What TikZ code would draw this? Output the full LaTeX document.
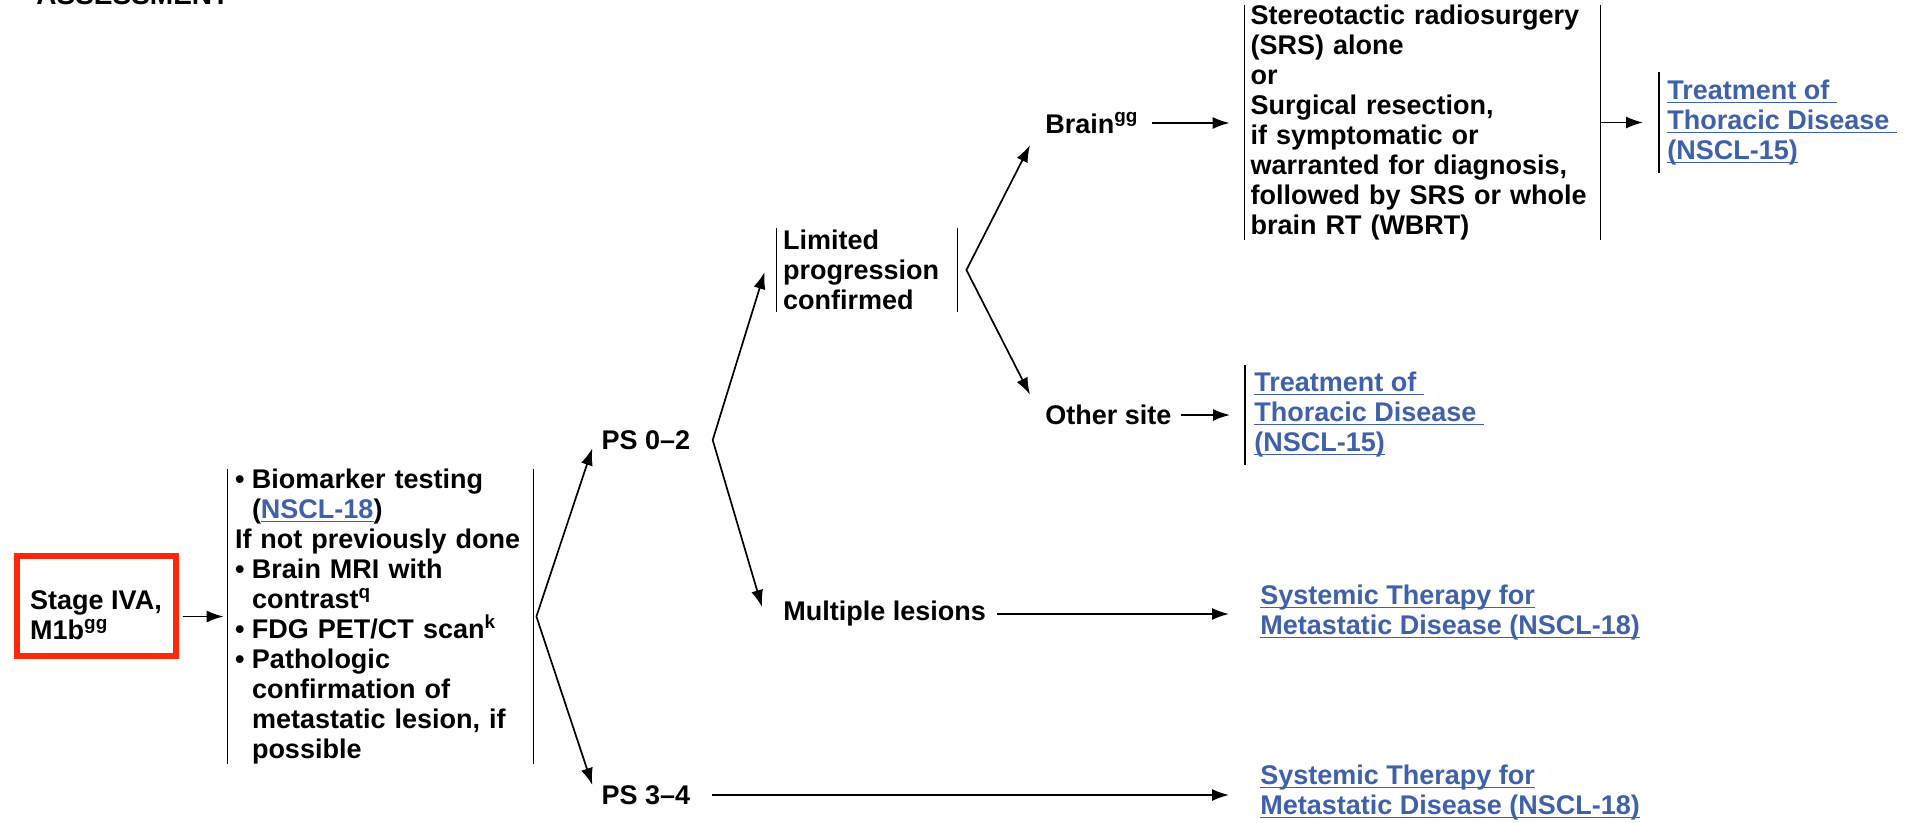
\documentclass[tikz,border=0pt]{standalone}
\usepackage{fontspec}
\setmainfont{Liberation Sans}
\usetikzlibrary{arrows.meta,calc}
\definecolor{linkblue}{RGB}{63,96,170}
\definecolor{boxred}{RGB}{255,40,10}
\newcommand\lnk[1]{\textcolor{linkblue}{\underline{\smash{#1}}\vphantom{#1}}}
\newcommand\bul{\makebox[8.5pt][l]{\textbullet}}
\newcommand\ind{\hspace*{8.5pt}}
\tikzset{
	txt/.style={font=\fontsize{13.5}{15}\selectfont\bfseries, inner sep=0pt, align=left},
	arr/.style={line width=0.85pt, -{Latex[length=8.5pt,width=6pt]}},
	forkarr/.style={line width=0.85pt, {Latex[length=8.5pt,width=6pt]}-{Latex[length=8.5pt,width=6pt]}},
	bar/.style={line width=0.7pt}
}

\begin{document}
\begin{tikzpicture}[x=0.5pt,y=-0.5pt]
				%%%%% FRAME %%%%%
				\useasboundingbox (0,0) rectangle (1909,823);
				\node[txt,font=\fontsize{14}{16}\selectfont\bfseries,anchor=base west] (head) at (36,5) {ASSESSMENT};

				%%%%% WORKUP %%%%%
				\node[txt,draw=boxred,line width=3pt,minimum width=79.5pt,minimum height=50pt] (stage) at (96,606) {\rule{0pt}{19pt}Stage IVA,\\M1b\textsuperscript{gg}};
				\node[txt,inner xsep=3.5pt,text width=145.5pt] (work) at (380.5,616.5) {\bul Biomarker testing\\
					\ind(\lnk{NSCL-18})\\
					If not previously done\\
					\bul Brain MRI with\\
					\ind contrast\textsuperscript{q}\\
					\bul FDG PET/CT scan\textsuperscript{k}\\
					\bul Pathologic\\
					\ind confirmation of\\
					\ind metastatic lesion, if\\
					\ind possible};
				\draw[arr] ($(stage.east |- work.west)+(4,0)$) -- ($(work.west)+(-4,0)$);

				%%%%% PERFORMANCE STATUS %%%%%
				\node[txt] (ps02) at (646,440) {PS 0--2};
				\node[txt] (ps34) at (646,795) {PS 3--4};
				\coordinate (f1) at ($(work.east)+(3,0)$);
				\draw[forkarr] ($(ps02.base west)+(-9,-1)$) -- (f1) -- ($(ps34.north west)+(-9,0)$);
				\node[txt,anchor=west] (sys2) at (1260,793) {\lnk{Systemic Therapy for}\\\lnk{Metastatic Disease (NSCL-18)}};
				\draw[arr] ($(ps34.east)+(21,0)$) -- ($(ps34.east -| sys2.west)+(-31,0)$);

				%%%%% PROGRESSION %%%%%
				\node[txt,inner xsep=3pt,inner ysep=1pt,text width=84pt] (limited) at (867,270) {Limited\\progression\\confirmed};
				\node[txt,anchor=west] (multi) at (783,614) {Multiple lesions};
				\coordinate (f2) at ($(ps02.east)+(22,0)$);
				\draw[forkarr] ($(limited.west)+(-12,2)$) -- (f2) -- ($(multi.north west)+(-21,6)$);
				\node[txt,anchor=west] (sys1) at (1260,613) {\lnk{Systemic Therapy for}\\\lnk{Metastatic Disease (NSCL-18)}};
				\draw[arr] ($(multi.east)+(11,0)$) -- ($(multi.east -| sys1.west)+(-31,0)$);

				%%%%% SITES %%%%%
				\node[txt,anchor=west] (brain) at (1045,123) {Brain\textsuperscript{gg}};
				\node[txt,anchor=west] (other) at (1045,415) {Other site};
				\coordinate (f3) at ($(limited.east)+(9,0)$);
				\draw[forkarr] ($(brain.base west)+(-15,12)$) -- (f3) -- ($(other.north west)+(-15,-10)$);

				\node[txt,inner xsep=2.75pt,text width=172pt] (srs) at (1422.5,122.5) {Stereotactic radiosurgery\\(SRS) alone\\or\\Surgical resection,\\if symptomatic or\\warranted for diagnosis,\\followed by SRS or whole\\brain RT (WBRT)};
				\node[txt,inner xsep=4pt,inner ysep=4pt,anchor=west] (tr1) at (1659,122.5) {\lnk{Treatment of\ }\\\lnk{Thoracic Disease\ }\\\lnk{(NSCL-15)}};
				\node[txt,inner xsep=4.5pt,inner ysep=3.5pt,anchor=west] (tr2) at (1245,415) {\lnk{Treatment of\ }\\\lnk{Thoracic Disease\ }\\\lnk{(NSCL-15)}};
				\draw[arr] ($(brain.east)+(13,0)$) -- ($(brain.east -| srs.west)+(-15,0)$);
				\draw[arr] (srs.east) -- ($(srs.east -| tr1.west)+(-16,0)$);
				\draw[arr] ($(other.east)+(9,0)$) -- ($(other.east -| tr2.west)+(-15,0)$);

				%%%%% BARS %%%%%
				\foreach \n in {work,limited,srs}
					\draw[bar] (\n.north west) -- (\n.south west) (\n.north east) -- (\n.south east);
				\draw[bar] (tr1.north west) -- (tr1.south west);
				\draw[bar] (tr2.north west) -- (tr2.south west);
\end{tikzpicture}
\end{document}
